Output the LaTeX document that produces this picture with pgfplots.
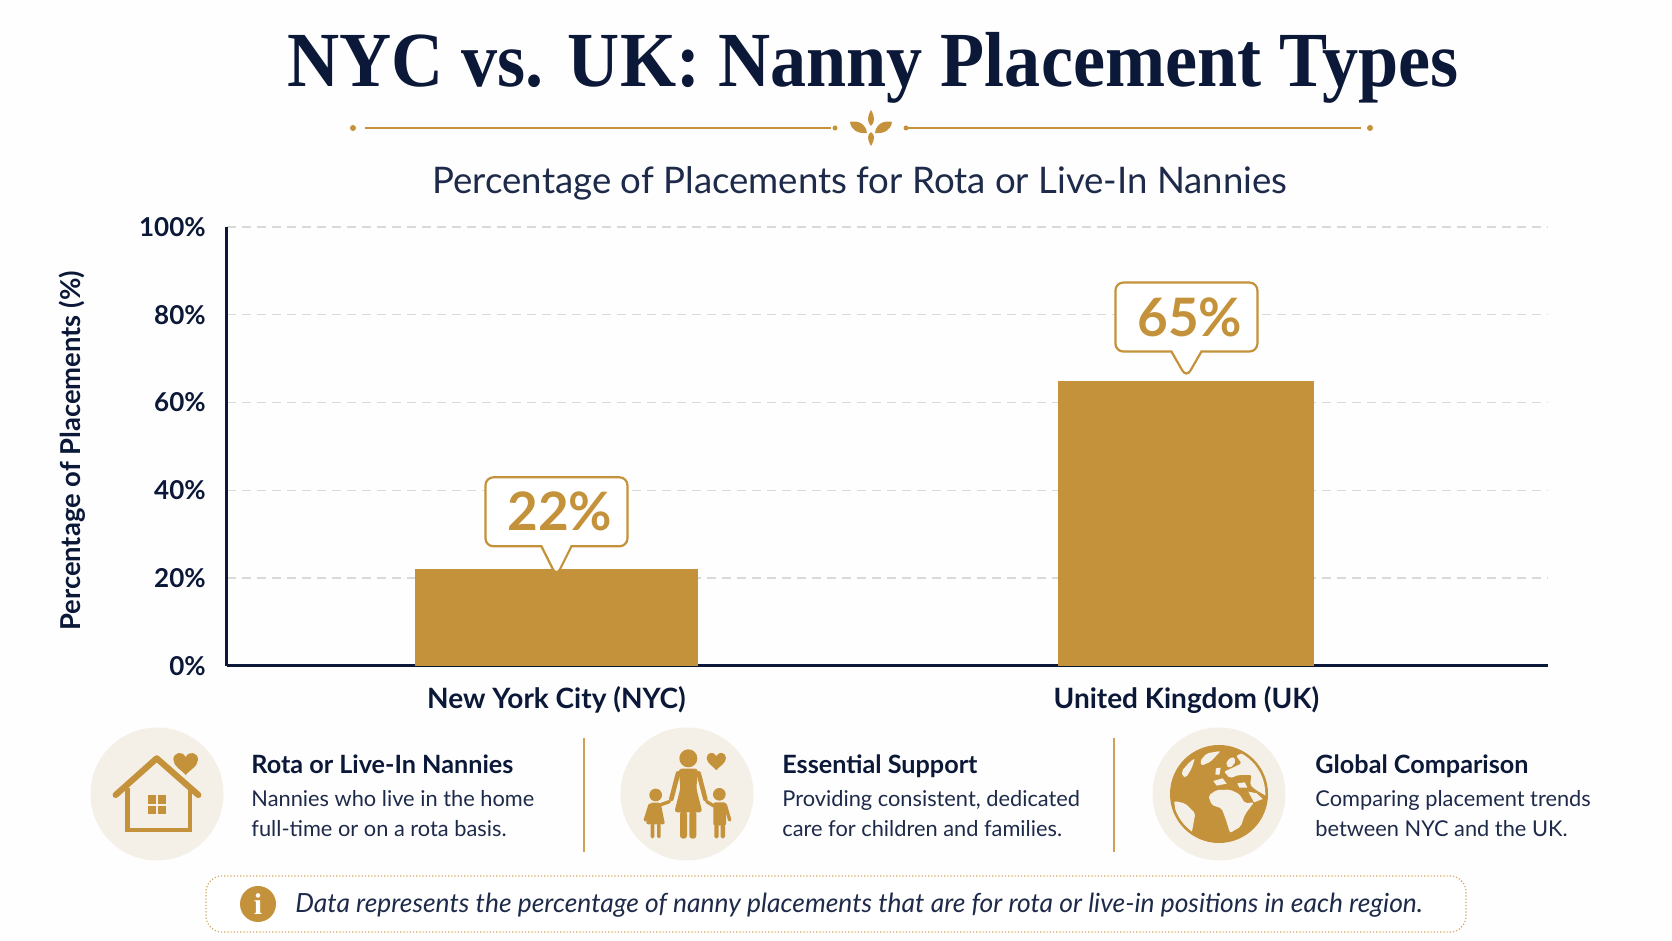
\documentclass[border=0pt]{standalone}
\usepackage{fontspec}
\usepackage{graphicx}
\usepackage{pgfplots}
\pgfplotsset{compat=1.18}
\usetikzlibrary{shapes.callouts}
\setmainfont{Lato}
\newfontfamily\titlefont{Liberation Serif}
\definecolor{navy}{HTML}{0B1838}
\definecolor{gold}{HTML}{C4923A}
\definecolor{cream}{HTML}{F5F0E7}
\definecolor{gridc}{HTML}{D9D9D9}
\definecolor{bodyc}{HTML}{1E2A4A}
\newcommand{\heart}[3]{% cx, cy, half width (y points down in icon scope)
  \fill[gold] (#1,#2+0.95*#3)
    .. controls (#1-0.25*#3,#2+0.6*#3) and (#1-#3,#2+0.25*#3) .. (#1-#3,#2-0.3*#3)
    .. controls (#1-#3,#2-0.9*#3) and (#1-0.25*#3,#2-1.05*#3) .. (#1,#2-0.5*#3)
    .. controls (#1+0.25*#3,#2-1.05*#3) and (#1+#3,#2-0.9*#3) .. (#1+#3,#2-0.3*#3)
    .. controls (#1+#3,#2+0.25*#3) and (#1+0.25*#3,#2+0.6*#3) .. (#1,#2+0.95*#3) -- cycle;}
\newcommand{\pnl}[4]{% x, heading, line1, line2
  \node[anchor=base west,inner sep=0,text=navy,font=\fontsize{12.6}{14}\selectfont\bfseries] at (#1,774) {#2};
  \node[anchor=base west,inner sep=0,text=bodyc,font=\fontsize{10.9}{13}\selectfont] at (#1,807) {#3};
  \node[anchor=base west,inner sep=0,text=bodyc,font=\fontsize{10.9}{13}\selectfont] at (#1,837) {#4};}
\begin{document}
\begin{tikzpicture}
\useasboundingbox (0,0) rectangle (836pt,470.5pt);
\fill[white!99.5!black] (0,0) rectangle (836pt,470.5pt);
\begin{axis}[
  at={(113.5pt,137.5pt)}, anchor=south west,
  scale only axis, width=660.5pt, height=219.5pt,
  xmin=-0.523, xmax=1.574, ymin=0, ymax=100,
  clip=false,
  axis lines=left,
  axis line style={-,navy,line width=1.5pt},
  xtick={0,1}, xticklabels={New York City (NYC),United Kingdom (UK)},
  ytick={0,20,40,60,80,100},
  yticklabel={\pgfmathprintnumber{\tick}\%},
  /pgf/number format/assume math mode=true,
  tick style={draw=none},
  xticklabel style={text=navy,font=\fontsize{14}{16}\selectfont\bfseries,yshift=-2.5pt},
  yticklabel style={text=navy,font=\fontsize{13}{15}\selectfont\bfseries,xshift=-5pt},
  ymajorgrids,
  grid style={gridc,line width=0.7pt,dash pattern=on 4.5pt off 3pt},
  ylabel={Percentage of Placements (\%)},
  every axis y label/.style={at={(axis description cs:-0.1175,0.49)},rotate=90,anchor=center,text=navy,font=\fontsize{13.7}{15}\selectfont\bfseries},
  ybar, bar shift=0pt,
  nodes near coords={\hspace*{3.5pt}\pgfmathprintnumber{\pgfplotspointmeta}\%},
  every node near coord/.style={
    rectangle callout, draw=gold, fill=white, line width=1.1pt, rounded corners=4pt,
    minimum width=71pt, minimum height=34.5pt, anchor=south, text=gold, inner sep=0pt,
    callout pointer width=15pt,
    font=\fontsize{26.5}{28}\selectfont\bfseries, /pgf/number format/assume math mode=true},
]
\addplot[fill=gold,draw=none,bar width=141.5pt,
  every node near coord/.append style={yshift=11pt,callout relative pointer={(canvas cs:x=0pt,y=-15pt)}}]
  coordinates {(0,22)};
\addplot[fill=gold,draw=none,bar width=128pt,
  every node near coord/.append style={yshift=14pt,callout relative pointer={(canvas cs:x=0pt,y=-13pt)}}]
  coordinates {(1,65)};
\end{axis}

% ---- everything below in reference pixels, y down
\begin{scope}[shift={(0,470.5pt)},x=0.5pt,y=-0.5pt]
\node[anchor=base,inner sep=0,text=navy,font=\titlefont\fontsize{39}{44}\selectfont\bfseries] at (873,87) {\scalebox{0.925}[1]{NYC vs. UK: Nanny Placement Types}};
\node[anchor=base,inner sep=0,text=bodyc,font=\fontsize{18.3}{20}\selectfont] at (860,193.5) {Percentage of Placements for Rota or Live-In Nannies};
% divider
\draw[gold,line width=0.7pt] (365,128) -- (831,128);
\draw[gold,line width=0.7pt] (906,128) -- (1361,128);
\fill[gold] (353,128) circle (3);
\fill[gold] (1370,128) circle (3);
\fill[gold] (835,128) circle (2.5);
\fill[gold] (906,128) circle (2.5);
\fill[gold] (871,110) .. controls (875,117) and (875,122) .. (871,126) .. controls (867,122) and (867,117) .. (871,110);
\fill[gold] (871,146) .. controls (875,139) and (875,135) .. (871,132) .. controls (867,135) and (867,139) .. (871,146);
\fill[gold] (850,122) .. controls (858,120) and (866,124) .. (867,133) .. controls (858,134) and (851,130) .. (850,122);
\fill[gold] (892,122) .. controls (884,120) and (876,124) .. (875,133) .. controls (884,134) and (891,130) .. (892,122);
% circles
\fill[cream] (157,794) circle (66.5);
\fill[cream] (687,794) circle (66.5);
\fill[cream] (1219,794) circle (66.5);
% separators
\draw[gold!85,line width=0.8pt] (584,738) -- (584,852);
\draw[gold!85,line width=0.8pt] (1114,738) -- (1114,852);
% panel text
\pnl{251}{Rota or Live-In Nannies}{Nannies who live in the home}{full-time or on a rota basis.}
\pnl{782}{Essential Support}{Providing consistent, dedicated}{care for children and families.}
\pnl{1315}{Global Comparison}{Comparing placement trends}{between NYC and the UK.}
% note
\draw[gold!80,line width=0.6pt,densely dotted,rounded corners=8pt,fill=white] (206,876) rectangle (1466,932);
\fill[gold] (258,904) circle (18);
\node[text=white,font=\titlefont\fontsize{15}{16}\selectfont\bfseries,inner sep=0] at (258,904) {i};
\node[anchor=base west,inner sep=0,text=bodyc,font=\fontsize{13.2}{15}\selectfont\itshape] at (295,913) {Data represents the percentage of nanny placements that are for rota or live-in positions in each region.};
\end{scope}

% house icon
\begin{scope}[shift={(45pt,470.5pt-362.5pt)},x=0.16667pt,y=-0.16667pt]
\draw[gold,line width=2.3pt] (113,190) -- (113,315) -- (300,315) -- (300,190);
\draw[gold,line width=3.1pt,line cap=round,line join=round] (77,210) -- (200,100) -- (325,210);
\fill[gold] (173,210) rectangle (197,236);
\fill[gold] (204,210) rectangle (228,236);
\fill[gold] (173,244) rectangle (197,268);
\fill[gold] (204,244) rectangle (228,268);
\heart{287}{115}{37}
\end{scope}
% family icon
\begin{scope}[shift={(310pt,470.5pt-362.5pt)},x=0.16667pt,y=-0.16667pt]
\fill[gold] (205,100) circle (27);
\fill[gold,rounded corners=1.5pt] (176,131) -- (234,131) -- (229,190) -- (247,262) -- (163,262) -- (181,190) -- cycle;
\draw[gold,line width=2.3pt,line cap=round] (174,145) -- (154,222);
\draw[gold,line width=2.3pt,line cap=round] (236,145) -- (256,222);
\fill[gold,rounded corners=1.5pt] (180,258) rectangle (201,341);
\fill[gold,rounded corners=1.5pt] (208,258) rectangle (229,341);
\fill[gold] (107,210) circle (19);
\fill[gold,rounded corners=1pt] (90,233) -- (122,233) -- (135,298) -- (78,298) -- cycle;
\draw[gold,line width=1.7pt,line cap=round] (120,240) -- (148,230);
\draw[gold,line width=1.7pt,line cap=round] (90,240) -- (76,285);
\fill[gold,rounded corners=0.8pt] (92,295) rectangle (103,340);
\fill[gold,rounded corners=0.8pt] (111,295) rectangle (122,340);
\fill[gold] (298,208) circle (19);
\fill[gold,rounded corners=1pt] (280,232) rectangle (318,302);
\draw[gold,line width=1.7pt,line cap=round] (282,243) -- (260,230);
\draw[gold,line width=1.7pt,line cap=round] (316,240) -- (329,285);
\fill[gold,rounded corners=0.8pt] (283,298) rectangle (296,340);
\fill[gold,rounded corners=0.8pt] (302,298) rectangle (315,340);
\heart{289}{108}{29}
\end{scope}
% globe icon
\begin{scope}[shift={(575pt,470.5pt-362.5pt)},x=0.16667pt,y=-0.16667pt]
\fill[gold] (207,207) circle (147);
\begin{scope}
\clip (207,207) circle (139);
\fill[cream,rounded corners=1pt] (175,212) -- (200,195) -- (240,194) -- (268,207) -- (285,235) -- (312,232) -- (285,268) -- (272,305) -- (240,324) -- (228,285) -- (215,250) -- (185,240) -- cycle;
\fill[cream,rounded corners=1pt] (72,228) -- (105,235) -- (136,265) -- (130,298) -- (125,325) -- (100,300) -- (78,265) -- cycle;
\fill[cream,rounded corners=1pt] (95,138) -- (120,110) -- (135,100) -- (125,130) -- (108,158) -- (98,155) -- cycle;
\fill[cream,rounded corners=1pt] (150,108) -- (170,85) -- (212,78) -- (182,110) -- (155,122) -- cycle;
% northern Eurasia
\fill[cream,rounded corners=1pt] (258,92) -- (290,80) -- (325,105) -- (350,165) -- (352,215) -- (335,205) -- (318,195) -- (300,180) -- (305,150) -- (265,150) -- (240,160) -- (222,140) -- (255,125) -- (275,115) -- cycle;
% Scandinavia
\fill[cream,rounded corners=1pt] (232,105) -- (250,95) -- (258,110) -- (240,130) -- (228,122) -- cycle;
% Iberia / small islands
\fill[cream] (198,130) -- (212,128) -- (208,150) -- (196,148) -- cycle;
\fill[cream] (190,168) -- (218,160) -- (230,176) -- (200,182) -- cycle;
\fill[cream] (262,175) -- (284,172) -- (292,188) -- (268,188) -- cycle;
% Arabia
\fill[cream] (295,200) -- (320,205) -- (338,222) -- (312,232) -- cycle;
\end{scope}
\end{scope}
\end{tikzpicture}
\end{document}
